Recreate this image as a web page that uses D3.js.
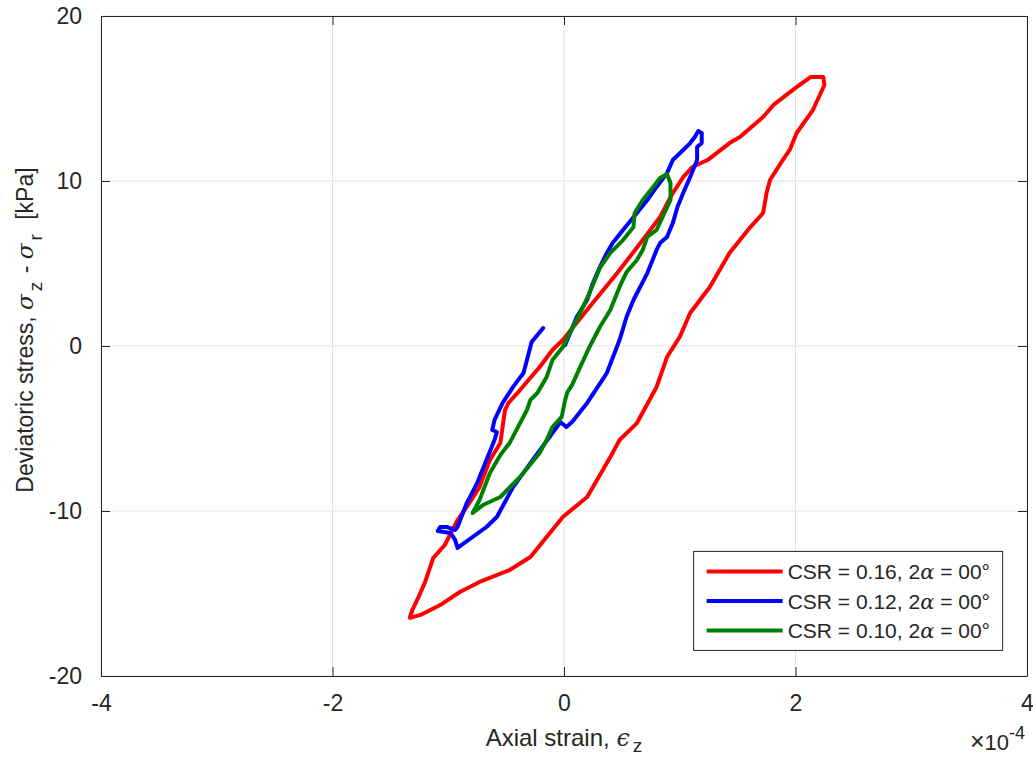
<!DOCTYPE html>
<html>
<head>
<meta charset="utf-8">
<script src="https://cdn.jsdelivr.net/npm/d3@7"></script>
<style>
  body { margin: 0; background: #fff; }
  text { font-family: "Liberation Sans", Arial, Helvetica, sans-serif; fill: #262626; }
</style>
</head>
<body>
<div class="chart"></div>
<script>
// axial strain (x1e-4) / deviatoric stress (kPa)
var redX = [-1.33,-1.31,-1.26,-1.20,-1.13,-1.03,-0.92,-0.83,-0.73,-0.64,-0.55,-0.51,-0.48,-0.38,-0.21,-0.10,-0.01,0.08,0.22,0.46,0.68,0.83,0.93,1.03,1.11,1.24,1.43,1.52,1.72,1.81,2.00,2.13,2.24,2.25,2.19,2.15,2.01,1.95,1.89,1.78,1.75,1.72,1.61,1.43,1.26,1.09,1.00,0.89,0.80,0.63,0.48,0.42,0.20,-0.01,-0.29,-0.47,-0.73,-0.90,-1.07,-1.24,-1.33]
var redY = [-16.42,-16.0,-15.27,-14.30,-12.85,-12.06,-10.55,-9.64,-8.55,-6.91,-5.88,-3.88,-3.45,-2.67,-1.27,-0.24,0.36,1.15,2.36,4.42,6.42,7.82,9.15,10.24,10.85,11.27,12.30,12.67,13.88,14.61,15.64,16.30,16.30,15.82,14.91,14.30,12.91,11.88,11.27,10.06,9.27,8.06,7.21,5.64,3.58,2.0,0.55,-0.67,-2.48,-4.67,-5.70,-6.48,-9.15,-10.36,-12.79,-13.58,-14.30,-14.91,-15.70,-16.30,-16.48]

var blueX = [0.01,0.11,0.20,0.25,0.31,0.37,0.42,0.51,0.63,0.72,0.80,0.89,0.94,1.03,1.09,1.13,1.16,1.19,1.19,1.15,1.15,1.09,1.03,0.98,0.94,0.89,0.83,0.80,0.72,0.60,0.54,0.48,0.37,0.20,0.07,0.02,-0.03,-0.10,-0.27,-0.44,-0.58,-0.67,-0.92,-0.94,-0.98,-1.09,-1.07,-1.01,-0.94,-0.92,-0.84,-0.75,-0.67,-0.60,-0.58,-0.62,-0.60,-0.53,-0.44,-0.35,-0.32,-0.28,-0.18]
var blueY = [0.06,1.76,2.79,3.82,4.79,5.64,6.24,7.03,8.06,8.85,9.64,10.48,11.27,11.88,12.30,12.67,13.03,12.91,12.30,12.06,11.27,10.24,9.27,8.42,7.45,6.61,6.24,5.82,4.42,2.79,1.76,0.36,-1.64,-3.45,-4.61,-4.91,-4.61,-5.27,-6.91,-8.55,-10.36,-10.97,-12.24,-11.76,-11.33,-11.21,-10.97,-10.97,-11.15,-10.97,-9.52,-8.30,-6.91,-5.70,-5.21,-5.09,-4.48,-3.45,-2.48,-1.64,-0.85,0.24,1.09]

var greenX = [-0.01,0.05,0.11,0.22,0.31,0.40,0.51,0.60,0.61,0.68,0.77,0.83,0.89,0.92,0.92,0.86,0.80,0.72,0.68,0.63,0.54,0.48,0.40,0.31,0.22,0.14,0.07,0.03,0.01,-0.02,-0.10,-0.15,-0.21,-0.38,-0.55,-0.70,-0.79,-0.73,-0.64,-0.55,-0.47,-0.38,-0.32,-0.29,-0.23,-0.15,-0.10,-0.01]
var greenY = [-0.06,0.79,1.58,3.21,4.73,5.64,6.42,7.21,8.06,8.85,9.64,10.18,10.42,9.88,8.85,7.94,7.03,6.61,5.82,5.21,4.48,3.58,2.18,1.15,-0.06,-1.27,-2.36,-2.79,-3.27,-4.30,-4.91,-5.70,-6.48,-7.94,-9.15,-9.64,-10.12,-9.33,-7.70,-6.61,-5.88,-4.67,-3.88,-3.27,-2.85,-1.88,-0.85,-0.06]

var seriesNames = ["CSR = 0.16, 2α = 00°", "CSR = 0.12, 2α = 00°", "CSR = 0.10, 2α = 00°"]
var seriesColors = ["#ff0000", "#0000ff", "#008000"]
var xTicks = [-4, -2, 0, 2, 4]
var yTicks = [-20, -10, 0, 10, 20]

var margin = {top: 16, right: 6, bottom: 81, left: 101}
var width = 1033 - margin.left - margin.right
var height = 757 - margin.top - margin.bottom

var x = d3.scaleLinear().domain([-4, 4]).range([0, width])
var y = d3.scaleLinear().domain([-20, 20]).range([height, 0])

var svg = d3.select(".chart")
    .append("svg")
        .attr("width", 1033)
        .attr("height", 757)
    .append("g")
        .attr("transform", "translate(" + margin.left + "," + margin.top + ")")

// grid
svg.selectAll(".gx").data(xTicks).enter().append("line")
    .attr("x1", d => x(d)).attr("x2", d => x(d))
    .attr("y1", 0).attr("y2", height)
    .attr("stroke", "#e3e3e3").attr("stroke-width", 1)
svg.selectAll(".gy").data(yTicks).enter().append("line")
    .attr("y1", d => y(d)).attr("y2", d => y(d))
    .attr("x1", 0).attr("x2", width)
    .attr("stroke", "#e3e3e3").attr("stroke-width", 1)

// axes, ticks inward like matlab
var fmt = d => String(d)
var xAxis = d3.axisBottom(x).tickValues(xTicks).tickFormat(fmt).tickSizeInner(-9).tickSizeOuter(0).tickPadding(19)
var yAxis = d3.axisLeft(y).tickValues(yTicks).tickFormat(fmt).tickSizeInner(-9).tickSizeOuter(0).tickPadding(19)
var xAxisTop = d3.axisTop(x).tickValues(xTicks).tickSizeInner(-9).tickSizeOuter(0).tickFormat("")
var yAxisRight = d3.axisRight(y).tickValues(yTicks).tickSizeInner(-9).tickSizeOuter(0).tickFormat("")

function styleAxis(g) {
    g.select(".domain").attr("stroke", "#262626")
    g.selectAll(".tick line").attr("stroke", "#262626")
    g.selectAll(".tick text").style("font-size", "23px").attr("fill", "#262626")
        .style("font-family", "'Liberation Sans', Arial, sans-serif")
}

// lines
var lineGen = d3.line().x(d => x(d[0])).y(d => y(d[1]))
var allSeries = [
    d3.zip(redX, redY),
    d3.zip(blueX, blueY),
    d3.zip(greenX, greenY)
]
svg.selectAll(".series").data(allSeries).enter().append("path")
    .attr("d", lineGen)
    .attr("fill", "none")
    .attr("stroke", (d, i) => seriesColors[i])
    .attr("stroke-width", 4)
    .attr("stroke-linejoin", "round")
    .attr("stroke-linecap", "round")

svg.append("g").attr("transform", "translate(0," + height + ")").call(xAxis).call(styleAxis)
svg.append("g").call(yAxis).call(styleAxis)
svg.append("g").call(xAxisTop).call(styleAxis)
svg.append("g").attr("transform", "translate(" + width + ",0)").call(yAxisRight).call(styleAxis)

// axis labels
var xl = svg.append("text")
    .attr("x", x(0))
    .attr("y", height + 70)
    .attr("text-anchor", "middle")
    .style("font-size", "24px")
xl.append("tspan").text("Axial strain, ")
xl.append("tspan").text("ϵ").style("font-family", "'DejaVu Serif', serif").style("font-style", "italic")
xl.append("tspan").text("z").attr("dy", 6).attr("dx", 3).style("font-size", "19px")

var yl = svg.append("text")
    .attr("transform", "translate(-68," + (y(0) - 16) + ") rotate(-90)")
    .attr("text-anchor", "middle")
    .style("font-size", "23px")
yl.append("tspan").text("Deviatoric stress, ")
yl.append("tspan").text("σ").style("font-family", "'DejaVu Serif', serif").style("font-style", "italic")
yl.append("tspan").text("z").attr("dy", 9).attr("dx", 3).style("font-size", "19px")
yl.append("tspan").text(" - ").attr("dy", -9).attr("dx", 2)
yl.append("tspan").text("σ").style("font-family", "'DejaVu Serif', serif").style("font-style", "italic")
yl.append("tspan").text("r").attr("dy", 9).attr("dx", 3).style("font-size", "19px")
yl.append("tspan").text("  [kPa]").attr("dy", -9).attr("dx", 8)

// exponent
var ex = svg.append("text")
    .attr("x", width - 2)
    .attr("y", height + 74)
    .attr("text-anchor", "end")
    .style("font-size", "22px")
ex.append("tspan").text("×").style("font-size", "25px")
ex.append("tspan").text("10")
ex.append("tspan").text("-4").attr("dy", -11).style("font-size", "18px")

// legend
var lg = svg.append("g").attr("transform", "translate(" + (x(1.12)) + "," + (y(-12.45)) + ")")
lg.append("rect")
    .attr("width", 309).attr("height", 99)
    .attr("fill", "#fff").attr("stroke", "#262626").attr("stroke-width", 1)
var items = lg.selectAll(".item").data(seriesNames).enter().append("g")
    .attr("transform", (d, i) => "translate(0," + (20 + i * 29.5) + ")")
items.append("line")
    .attr("x1", 13).attr("x2", 89)
    .attr("stroke", (d, i) => seriesColors[i]).attr("stroke-width", 4)
var lt = items.append("text").attr("x", 94).attr("y", 8).style("font-size", "21px")
lt.append("tspan").text(d => d.split("α")[0])
lt.append("tspan").text("α").style("font-family", "'DejaVu Serif', serif").style("font-style", "italic")
lt.append("tspan").text(d => d.split("α")[1])
</script>
</body>
</html>
